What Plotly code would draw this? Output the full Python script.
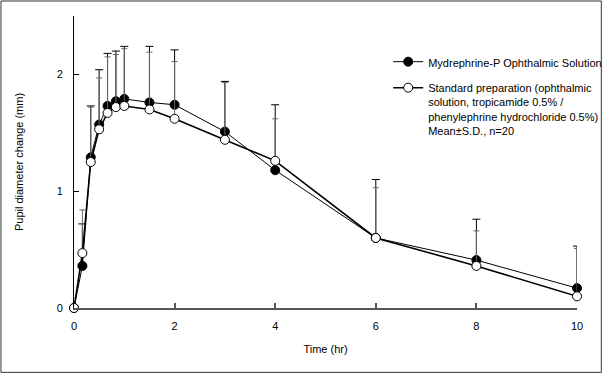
import plotly.graph_objects as go

time_hr = [0, 0.167, 0.333, 0.5, 0.667, 0.833, 1, 1.5, 2, 3, 4, 6, 8, 10]
mydrephrine_mean = [0, 0.36, 1.29, 1.57, 1.73, 1.77, 1.79, 1.76, 1.74, 1.51, 1.18, 0.60, 0.41, 0.17]
mydrephrine_sd = [0, 0.36, 0.44, 0.47, 0.45, 0.43, 0.45, 0.48, 0.47, 0.43, 0.56, 0.50, 0.35, 0.36]
standard_mean = [0, 0.47, 1.25, 1.53, 1.67, 1.72, 1.73, 1.70, 1.62, 1.44, 1.26, 0.60, 0.36, 0.10]
standard_sd = [0, 0.37, 0.47, 0.44, 0.48, 0.45, 0.49, 0.49, 0.49, 0.49, 0.36, 0.43, 0.30, 0.41]
zeros = [0] * len(time_hr)

name_a = "Mydrephrine-P Ophthalmic Solution"
name_b = ("Standard preparation (ophthalmic<br>solution, tropicamide 0.5% /<br>"
          "phenylephrine hydrochloride 0.5%)<br>Mean±S.D., n=20")

fig = go.Figure()
fig.add_trace(go.Scatter(
    x=time_hr, y=mydrephrine_mean, name=name_a, mode="lines+markers", legendgroup="a",
    line=dict(color="black", width=1),
    marker=dict(symbol="circle", size=9, color="black", line=dict(color="black", width=1)),
    error_y=dict(type="data", array=mydrephrine_sd, arrayminus=zeros, symmetric=False,
                 color="black", thickness=1, width=4),
    cliponaxis=False,
))
fig.add_trace(go.Scatter(
    x=time_hr, y=standard_mean, name=name_b, mode="lines+markers", legendgroup="b",
    line=dict(color="black", width=1.6),
    marker=dict(symbol="circle", size=9, color="white", line=dict(color="black", width=1)),
    error_y=dict(type="data", array=standard_sd, arrayminus=zeros, symmetric=False,
                 color="#666666", thickness=1, width=3),
    cliponaxis=False,
))

# outer frame
L, R, T, B = 74, 27.3, 16, 69.3
W, H = 604, 377
pw, ph = W - L - R, H - T - B
fig.add_shape(type="rect", xref="paper", yref="paper",
              x0=(1 - L) / pw, x1=(601 - L) / pw,
              y0=(H - B - 372) / ph, y1=(H - B - 1) / ph,
              line=dict(color="#333333", width=1), fillcolor="rgba(0,0,0,0)", layer="below")

fig.update_layout(
    width=W, height=H,
    margin=dict(l=L, r=R, t=T, b=B, pad=0, autoexpand=False),
    paper_bgcolor="white", plot_bgcolor="white",
    font=dict(family="Liberation Sans, Arial, sans-serif", size=11, color="black"),
    showlegend=True,
    legend=dict(x=(388 - L) / pw, y=(H - B - 48) / ph, xanchor="left", yanchor="top",
                bgcolor="rgba(0,0,0,0)", borderwidth=0, valign="top",
                font=dict(size=11), tracegroupgap=7),
    xaxis=dict(range=[0, 10], tickvals=[0, 2, 4, 6, 8, 10], ticks="inside", ticklen=5,
               tickcolor="#555555", tickwidth=1.5,
               showline=True, linecolor="#555555", linewidth=2, showgrid=False, zeroline=False,
               ticklabelstandoff=7,
               title=dict(text="Time (hr)", standoff=14, font=dict(size=11))),
    yaxis=dict(range=[0, 2.5], tickvals=[0, 1, 2], ticks="inside", ticklen=5,
               tickcolor="black", tickwidth=1,
               showline=True, linecolor="black", linewidth=1, showgrid=False, zeroline=False,
               ticklabelstandoff=8,
               title=dict(text="Pupil diameter change (mm)", standoff=30, font=dict(size=11))),
)

fig.write_html("out.html", config={"displayModeBar": False},
               post_script="document.body.style.margin='0';")
